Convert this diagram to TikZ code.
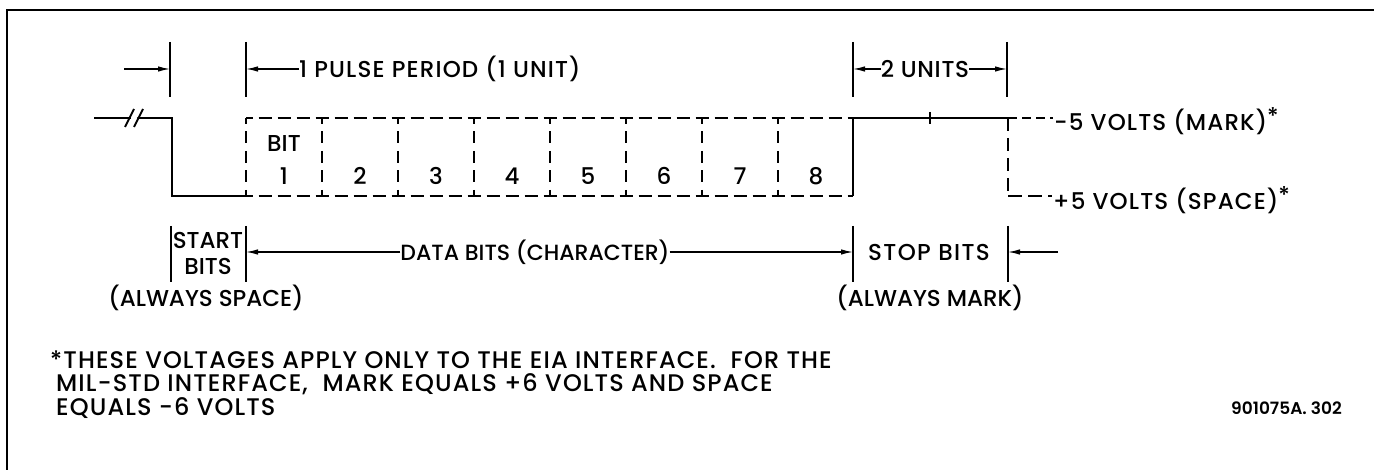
\documentclass[tikz,border=0pt]{standalone}
\usepackage{fontspec}
\setmainfont{Poppins}[UprightFont=* Medium, BoldFont=* SemiBold]
\usetikzlibrary{arrows.meta}
\begin{document}
\begin{tikzpicture}[x=1pt,y=-1pt,
  lbl/.style={inner sep=0pt, font=\fontsize{23}{23}\selectfont\addfontfeature{LetterSpace=#1}},
  lbl/.default=0,
  note/.style={inner sep=0pt, font=\fontsize{24}{24}\selectfont\addfontfeature{LetterSpace=4.6}},
  small/.style={inner sep=0pt, font=\fontsize{17}{17}\selectfont\bfseries},
  tick/.style={line width=1.8pt},
  sig/.style={line width=2.4pt},
  dim/.style={line width=1.3pt, -{Latex[length=12pt,width=5.5pt]}},
  hdash/.style={line width=2.2pt, dash pattern=on 13pt off 6pt, dash phase=6.5pt},
  vdash/.style={line width=2.2pt, dash pattern=on 12pt off 7.5pt, dash phase=6pt},
  frame/.style={line width=2.4pt}]
\useasboundingbox (0,0) rectangle (1374,470);
% frame
\draw[frame] (7,470) -- (7,10) -- (1374,10);
% top dimension ticks
\coordinate (ta1) at (170,42); \coordinate (tb1) at (170,97);
\coordinate (ta2) at (246,42); \coordinate (tb2) at (246,97);
\coordinate (ta3) at (853,42); \coordinate (tb3) at (853,97);
\coordinate (ta4) at (1007,42); \coordinate (tb4) at (1007,97);
\draw[tick] (ta1) -- (tb1);
\draw[tick] (ta2) -- (tb2);
\draw[tick] (ta3) -- (tb3);
\draw[tick] (ta4) -- (tb4);
\coordinate (arr0) at (124,69);
\coordinate (m1) at (170,69);
\coordinate (m2) at (246,69);
\coordinate (m3) at (853,69);
\coordinate (m4) at (1007,69);
\draw[dim] (arr0) -- (m1);
\node[lbl=5, anchor=west] (pp) at (299,69) {1 PULSE PERIOD (1 UNIT)};
\draw[dim] (pp.west) -- (m2);
\node[lbl=3] (two) at (925,69) {2 UNITS};
\draw[dim] (two.west) -- (m3);
\draw[dim] (two.east) -- (m4);
% signal
\coordinate (s0) at (94,118);
\coordinate (s1) at (131,118);
\coordinate (s2) at (138,118);
\coordinate (s3) at (172,118);
\coordinate (s4) at (172,196);
\coordinate (s5) at (246,196);
\draw[sig] (s0) -- (s1);
\draw[sig, line cap=round] (s2) -- (s3) -- (s4) -- (s5);
\coordinate (k1a) at (125,127); \coordinate (k1b) at (134,109);
\coordinate (k2a) at (134,127); \coordinate (k2b) at (143,109);
\draw[line width=1.8pt] (k1a) -- (k1b);
\draw[line width=1.8pt] (k2a) -- (k2b);
% data bits dashed frame
\coordinate (dt0) at (246,118); \coordinate (dt8) at (853,118);
\coordinate (db0) at (246,196); \coordinate (db8) at (853,196);
\draw[hdash] (dt0) -- (dt8);
\draw[hdash] (db0) -- (db8);
\foreach \i/\x in {0/246,1/322,2/398,3/474,4/550,5/626,6/702,7/778}{
  \coordinate (vt\i) at (\x,118); \coordinate (vb\i) at (\x,196);
  \draw[vdash] (vt\i) -- (vb\i);
}
\draw[sig] (dt8) -- (db8);
\node[lbl] (bitw) at (284,144) {BIT};
\node[lbl] (b1) at (284,176) {1};
\foreach \n/\x in {2/360,3/436,4/512,5/588,6/664,7/740,8/816}{
  \node[lbl] (b\n) at (\x,176) {\n};
}
% stop bits
\coordinate (st1) at (1008,118);
\draw[sig] (dt8) -- (st1);
\coordinate (tk1) at (930,112); \coordinate (tk2) at (930,124);
\draw[line width=1.6pt] (tk1) -- (tk2);
% level lines
\coordinate (lv1) at (1008,196);
\coordinate (mk) at (1053,118);
\coordinate (sp) at (1052,196);
\draw[line width=2pt, dash pattern=on 9pt off 5pt] (st1) -- (mk);
\draw[line width=2pt, dash pattern=on 13pt off 7pt] (st1) -- (lv1);
\draw[line width=2pt, dash pattern=on 14pt off 6pt] (lv1) -- (sp);
\node[lbl=5, anchor=west] (mark) at (1054,121) {-5 VOLTS (MARK)\raisebox{6pt}{*}};
\node[lbl=5, anchor=west] (space) at (1053,200) {+5 VOLTS (SPACE)\raisebox{6pt}{*}};
% bottom dimensions
\coordinate (ua1) at (171,226); \coordinate (ub1) at (171,282);
\coordinate (ua2) at (246,226); \coordinate (ub2) at (246,282);
\coordinate (ua3) at (853,226); \coordinate (ub3) at (853,282);
\coordinate (ua4) at (1008,226); \coordinate (ub4) at (1008,282);
\draw[tick] (ua1) -- (ub1);
\draw[tick] (ua2) -- (ub2);
\draw[tick] (ua3) -- (ub3);
\draw[tick] (ua4) -- (ub4);
\node[lbl] (start) at (208,240) {START};
\node[lbl] (bits) at (208,266) {BITS};
\node[lbl, font=\fontsize{22}{22}\selectfont] (data) at (535,252) {DATA BITS (CHARACTER)};
\coordinate (n2) at (246,252);
\coordinate (n3) at (853,252);
\coordinate (n4) at (1008,252);
\coordinate (n5) at (1058,252);
\draw[dim] (data.west) -- (n2);
\draw[dim] (data.east) -- (n3);
\node[lbl=6] (stop) at (929,252) {STOP BITS};
\draw[dim] (n5) -- (n4);
\node[lbl] (asp) at (206,298) {(ALWAYS SPACE)};
\node[lbl] (amk) at (930,298) {(ALWAYS MARK)};
% footnote
\node[note, anchor=west] (f1) at (50,360) {*THESE VOLTAGES APPLY ONLY TO THE EIA INTERFACE.\ \ FOR THE};
\node[note, anchor=west] (f2) at (56,384) {MIL-STD INTERFACE,\ \ MARK EQUALS +6 VOLTS AND SPACE};
\node[note, anchor=west] (f3) at (56,408) {EQUALS -6 VOLTS};
\node[small, anchor=east] (ref) at (1342,408) {901075A. 302};
\end{tikzpicture}
\end{document}
